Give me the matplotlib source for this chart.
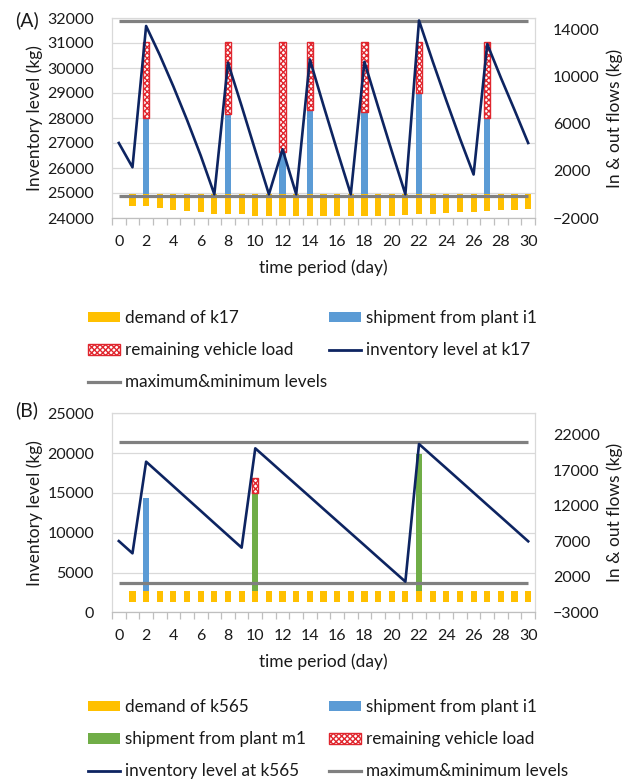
import numpy as np
import matplotlib
matplotlib.use('Agg')
import matplotlib.pyplot as plt
from matplotlib.patches import Patch
from matplotlib.lines import Line2D

plt.rcParams['font.family'] = ['Lato', 'DejaVu Sans']
plt.rcParams['hatch.linewidth'] = 1.0

# ---------------- data ----------------
days = list(range(31))
day_ticks = list(range(0, 31, 2))

# Panel A (k17)
demand_A = [0, 953, 953, 1177, 1290, 1376, 1460, 1630, 1690, 1690, 1800, 1860, 1860,
            1860, 1860, 1830, 1860, 1800, 1860, 1800, 1800, 1745, 1690, 1630, 1575,
            1520, 1460, 1376, 1350, 1290, 1235]
ship_days_A = [2, 8, 12, 14, 18, 22, 27]
ship_i1_A = [6480, 6820, 3640, 7140, 7040, 8650, 6530]
remaining_A = [6470, 6130, 9310, 5810, 5910, 4300, 6420]
inventory_A = [27000, 26030, 31680, 30520, 29260, 27920, 26500, 24950, 30210, 28480,
               26700, 24950, 26750, 24950, 30340, 28500, 26700, 24950, 30250, 28450,
               26680, 24950, 31900, 30270, 28700, 27180, 25740, 30960, 29610, 28320,
               27000]
max_A, min_A = 31900, 24900
left_ticks_A = [24000, 25000, 26000, 27000, 28000, 29000, 30000, 31000, 32000]
right_ticks_A = [-2000, 2000, 6000, 10000, 14000]

# Panel B (k565)
demand_B = [0, 1500, 1500, 1500, 1500, 1500, 1500, 1500, 1500, 1500, 1500, 1500, 1500,
            1500, 1500, 1500, 1500, 1500, 1500, 1500, 1500, 1500, 1500, 1500, 1500,
            1500, 1500, 1500, 1500, 1500, 1500]
ship_i1_days_B = [2]
ship_i1_B = [13130]
ship_m1_days_B = [10, 22]
ship_m1_B = [13830, 19230]
remaining_days_B = [10]
remaining_B = [2110]
inventory_B = [8950, 7410, 18920, 17380, 15840, 14290, 12750, 11200, 9660, 8120,
               20600, 19080, 17550, 16030, 14510, 12980, 11460, 9940, 8420, 6890,
               5370, 3850, 21140, 19610, 18090, 16560, 15030, 13500, 11980, 10450,
               8920]
max_B, min_B = 21350, 3640
left_ticks_B = [0, 5000, 10000, 15000, 20000, 25000]
right_ticks_B = [-3000, 2000, 7000, 12000, 17000, 22000]

# ---------------- style ----------------
C_DEM = '#FFC000'
C_I1 = '#5B9BD5'
C_M1 = '#70AD47'
C_RED = '#E0262E'
C_INV = '#0D2461'
C_LVL = '#808080'
C_GRID = '#D9D9D9'
TXT = '#1a1a1a'
FS = 11.5
LFS = 12.3
BW = 0.45
HATCH = 'xxxxxx'

W, H = 635, 780
fig = plt.figure(figsize=(W / 100, H / 100), dpi=100)


def make_panel(top_px, bottom_px, lylim, lticks, rylim, rticks):
    pos = [112 / W, 1 - bottom_px / H, 423 / W, (bottom_px - top_px) / H]
    axL = fig.add_axes(pos)
    axR = axL.twinx()
    axI = axL.twinx()
    axL.set_xlim(-0.5, 30.5)
    axL.set_ylim(*lylim)
    axL.set_yticks(lticks)
    axL.yaxis.grid(True, color=C_GRID, lw=0.9)
    axL.set_axisbelow(True)
    axL.tick_params(axis='y', length=0, pad=13, labelsize=FS, labelcolor=TXT)
    axL.set_xticks(day_ticks)
    axL.set_xticklabels([str(d) for d in day_ticks])
    axL.set_xticks(np.arange(-0.5, 31, 1), minor=True)
    axL.tick_params(axis='x', which='major', length=0, pad=12, labelsize=FS, labelcolor=TXT)
    axL.tick_params(axis='x', which='minor', length=5, color='#BFBFBF', width=0.9)
    for s in axL.spines.values():
        s.set_color(C_GRID)
        s.set_linewidth(0.9)
    axL.spines['bottom'].set_color('#BFBFBF')

    axR.set_ylim(*rylim)
    axR.set_yticks(rticks)
    axR.tick_params(axis='y', length=0, pad=13, labelsize=FS, labelcolor=TXT)
    for s in axR.spines.values():
        s.set_visible(False)

    axI.set_ylim(*lylim)
    axI.yaxis.set_visible(False)
    for s in axI.spines.values():
        s.set_visible(False)

    axL.set_ylabel('Inventory level (kg)', fontsize=12.5, color=TXT)
    axL.yaxis.label.set_verticalalignment('center')
    axL.yaxis.set_label_coords(-0.182, 0.5)
    axR.set_ylabel('In & out flows (kg)', fontsize=12.5, color=TXT)
    axR.yaxis.label.set_verticalalignment('center')
    axR.yaxis.set_label_coords(1.189, 0.5)
    axL.set_xlabel('time period (day)', fontsize=12.5, color=TXT)
    axL.xaxis.label.set_verticalalignment('center')
    axL.xaxis.set_label_coords(0.5, -0.25)
    return axL, axR, axI


# ---------------- Panel A ----------------
aL, aR, aI = make_panel(18, 218, (24000, 32000), left_ticks_A, (-2000, 15000), right_ticks_A)
aR.bar(days, [-d for d in demand_A], width=BW, color=C_DEM)
aR.bar(ship_days_A, ship_i1_A, width=BW, color=C_I1)
aR.bar(ship_days_A, remaining_A, bottom=ship_i1_A, width=BW, facecolor='white',
       edgecolor=C_RED, hatch=HATCH, linewidth=1.0)
aI.plot([days[0], days[-1]], [max_A, max_A], color=C_LVL, lw=2.3, solid_capstyle='butt')
aI.plot([days[0], days[-1]], [min_A, min_A], color=C_LVL, lw=2.3, solid_capstyle='butt')
aI.plot(days, inventory_A, color=C_INV, lw=1.9)
fig.text(27 / W, 1 - 20 / H, '(A)', fontsize=14, ha='center', va='center', color=TXT)

# ---------------- Panel B ----------------
bL, bR, bI = make_panel(413.3, 612.3, (0, 25000), left_ticks_B, (-3000, 25000), right_ticks_B)
bR.bar(days, [-d for d in demand_B], width=BW, color=C_DEM)
bR.bar(ship_i1_days_B, ship_i1_B, width=BW, color=C_I1)
bR.bar(ship_m1_days_B, ship_m1_B, width=BW, color=C_M1)
rem_bottom_B = [ship_m1_B[ship_m1_days_B.index(d)] for d in remaining_days_B]
bR.bar(remaining_days_B, remaining_B, bottom=rem_bottom_B, width=BW, facecolor='white',
       edgecolor=C_RED, hatch=HATCH, linewidth=1.0)
bI.plot([days[0], days[-1]], [max_B, max_B], color=C_LVL, lw=2.3, solid_capstyle='butt')
bI.plot([days[0], days[-1]], [min_B, min_B], color=C_LVL, lw=2.3, solid_capstyle='butt')
bI.plot(days, inventory_B, color=C_INV, lw=1.9)
fig.text(27 / W, 1 - 410 / H, '(B)', fontsize=14, ha='center', va='center', color=TXT)

# ---------------- legends ----------------
h_dem = Patch(facecolor=C_DEM, edgecolor='none')
h_i1 = Patch(facecolor=C_I1, edgecolor='none')
h_m1 = Patch(facecolor=C_M1, edgecolor='none')
h_red = Patch(facecolor='white', edgecolor=C_RED, hatch=HATCH, linewidth=1.0)
h_inv = Line2D([], [], color=C_INV, lw=2)
h_lvl = Line2D([], [], color=C_LVL, lw=2.3)


def col_legend(handles, labels, x_px, y_px):
    lg = fig.legend(handles, labels, loc='upper left',
                    bbox_to_anchor=(x_px / W, 1 - y_px / H), bbox_transform=fig.transFigure,
                    frameon=False, fontsize=LFS, borderpad=0, borderaxespad=0,
                    handlelength=1.9, handleheight=0.6, handletextpad=0.25,
                    labelspacing=0.95)
    for t in lg.get_texts():
        t.set_color(TXT)
    return lg


col_legend([h_dem, h_red, h_lvl],
           ['demand of k17', 'remaining vehicle load', 'maximum&minimum levels'], 88, 310)
col_legend([h_i1, h_inv],
           ['shipment from plant i1', 'inventory level at k17'], 329, 310)
col_legend([h_dem, h_m1, h_inv],
           ['demand of k565', 'shipment from plant m1', 'inventory level at k565'], 88, 699)
col_legend([h_i1, h_red, h_lvl],
           ['shipment from plant i1', 'remaining vehicle load', 'maximum&minimum levels'], 329, 699)

fig.savefig('out.png', dpi=100)
